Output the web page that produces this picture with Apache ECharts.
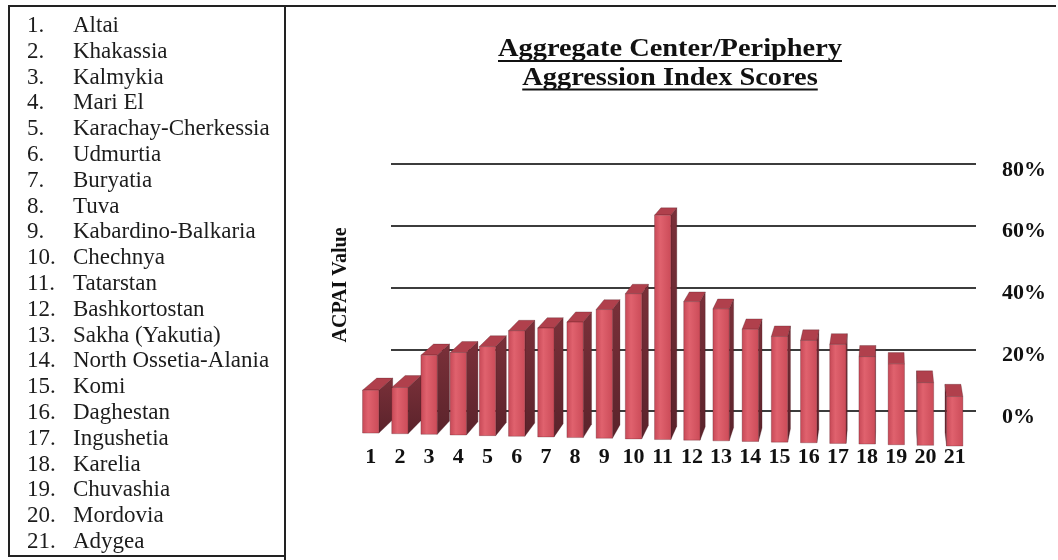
<!DOCTYPE html>
<html>
<head>
<meta charset="utf-8">
<script src="https://cdn.jsdelivr.net/npm/echarts@6/dist/echarts.min.js"></script>
<style>
  html, body { margin: 0; padding: 0; background: #ffffff; }
  #chart { width: 1058px; height: 560px; }
</style>
</head>
<body>
<div id="chart"></div>
<script>
// ---------- data ----------
const regions = ['Altai', 'Khakassia', 'Kalmykia', 'Mari El', 'Karachay-Cherkessia', 'Udmurtia',
  'Buryatia', 'Tuva', 'Kabardino-Balkaria', 'Chechnya', 'Tatarstan', 'Bashkortostan',
  'Sakha (Yakutia)', 'North Ossetia-Alania', 'Komi', 'Daghestan', 'Ingushetia', 'Karelia',
  'Chuvashia', 'Mordovia', 'Adygea'];
const barLabels = ['1', '2', '3', '4', '5', '6', '7', '8', '9', '10', '11', '12', '13', '14',
  '15', '16', '17', '18', '19', '20', '21'];
const acpaiValues = [13, 14, 24, 25, 27, 32, 33, 35, 39, 44, 68, 42, 40, 34, 32, 31, 30, 26.5, 24.5, 19, 15];
const titleLines = ['Aggregate Center/Periphery', 'Aggression Index Scores'];
const axisTitle = 'ACPAI Value';
const yMin = 0, yMax = 80, yStep = 20;

// ---------- styling ----------
const SERIF = '"Liberation Serif", "Times New Roman", serif';
const VPX = 890, VPY = 0, K = 0.027;  // perspective depth toward a vanishing point
const SKEW = 0.0222, SKEW_CX = 661;   // slight tilt of the front plane

const chart = echarts.init(document.getElementById('chart'), null, { renderer: 'canvas' });

function measure(text, font) {
  const c = document.createElement('canvas').getContext('2d');
  c.font = font;
  return c.measureText(text).width;
}

const graphics = [];
// frame
graphics.push({ type: 'line', shape: { x1: 8, y1: 6, x2: 1056, y2: 6 }, style: { stroke: '#222', lineWidth: 2 } });
graphics.push({ type: 'line', shape: { x1: 9, y1: 6, x2: 9, y2: 556 }, style: { stroke: '#222', lineWidth: 2 } });
graphics.push({ type: 'line', shape: { x1: 285, y1: 6, x2: 285, y2: 560 }, style: { stroke: '#222', lineWidth: 2 } });
graphics.push({ type: 'line', shape: { x1: 8, y1: 556, x2: 286, y2: 556 }, style: { stroke: '#222', lineWidth: 2 } });

// region list
regions.forEach((name, i) => {
  const y = 26 + i * 25.8;
  graphics.push({ type: 'text', x: 27, y: y, style: { text: (i + 1) + '.', font: '23px ' + SERIF, fill: '#1c1c1c', align: 'left', verticalAlign: 'middle' } });
  graphics.push({ type: 'text', x: 73, y: y, style: { text: name, font: '23px ' + SERIF, fill: '#1c1c1c', align: 'left', verticalAlign: 'middle' } });
});

// title with underline
const titleFont = 'bold 25px ' + SERIF;
const titleScale = 344 / measure(titleLines[0], titleFont);
titleLines.forEach((t, i) => {
  const cy = 50 + i * 28.5;
  const w = measure(t, titleFont) * titleScale;
  graphics.push({ type: 'text', x: 670, y: cy, scaleX: titleScale, style: { text: t, font: titleFont, fill: '#111', align: 'center', verticalAlign: 'middle' } });
  graphics.push({ type: 'line', shape: { x1: 670 - w / 2, y1: cy + 11, x2: 670 + w / 2, y2: cy + 11 }, style: { stroke: '#111', lineWidth: 2 } });
});

// axis title
graphics.push({ type: 'text', x: 341, y: 285, rotation: Math.PI / 2,
  style: { text: axisTitle, font: 'bold 20px ' + SERIF, fill: '#111', align: 'center', verticalAlign: 'middle' } });

function renderBar(params, api) {
  const i = api.value(0), v = api.value(1);
  const base = api.coord([i, 0]);
  const top = api.coord([i, v]);
  const band = api.size([1, 0])[0];
  const w = band * 0.56;
  const cx = base[0];
  const sk = (cx - SKEW_CX) * SKEW;
  const x0 = cx - w / 2, x1 = cx + w / 2;
  const yT = top[1] + sk, yB = base[1] + sk;
  const off = (x, y) => [x + K * (VPX - x), y + K * (VPY - y) - 1.5];
  const children = [];
  const edge = { stroke: 'rgba(70,20,28,0.45)', lineWidth: 0.6 };
  // side face
  if (x1 < VPX) {
    const a = off(x1, yT), b = off(x1, yB);
    children.push({ type: 'polygon', shape: { points: [[x1, yT], a, b, [x1, yB]] },
      style: Object.assign({ fill: { type: 'linear', x: 0, y: 0, x2: 0, y2: 1, colorStops: [
        { offset: 0, color: '#7a3039' }, { offset: 1, color: '#5a232b' }] } }, edge) });
  } else if (x0 > VPX) {
    const a = off(x0, yT), b = off(x0, yB);
    children.push({ type: 'polygon', shape: { points: [[x0, yT], a, b, [x0, yB]] },
      style: Object.assign({ fill: '#6a2a33' }, edge) });
  }
  // top face
  const t0 = off(x0, yT), t1 = off(x1, yT);
  children.push({ type: 'polygon', shape: { points: [[x0, yT], [x1, yT], t1, t0] },
    style: Object.assign({ fill: '#b0404c' }, edge) });
  // front face
  children.push({ type: 'rect', shape: { x: x0, y: yT, width: w, height: yB - yT },
    style: Object.assign({ fill: { type: 'linear', x: 0, y: 0, x2: 1, y2: 0, colorStops: [
      { offset: 0, color: '#c64856' }, { offset: 0.35, color: '#e0626e' }, { offset: 1, color: '#cb4b58' }] } }, edge) });
  return { type: 'group', children: children };
}

const option = {
  backgroundColor: '#ffffff',
  animation: false,
  grid: [
    { left: 391, right: 82, top: 164, bottom: 149 },   // back wall with gridlines
    { left: 356.1, right: 88.7, top: 175.5, bottom: 120.5 }  // front plane of the bars
  ],
  xAxis: [
    { type: 'category', gridIndex: 0, data: barLabels, show: false },
    { type: 'category', gridIndex: 1, data: barLabels, boundaryGap: true,
      axisLine: { show: false }, axisTick: { show: false },
      axisLabel: { margin: 7, color: '#111', fontFamily: SERIF, fontWeight: 'bold', fontSize: 22, interval: 0 } }
  ],
  yAxis: [
    { type: 'value', gridIndex: 0, position: 'right', min: yMin, max: yMax, interval: yStep,
      axisLine: { show: false }, axisTick: { show: false },
      axisLabel: { margin: 26, formatter: '{value}%', color: '#111', fontFamily: SERIF, fontWeight: 'bold', fontSize: 22,
        verticalAlign: 'top', lineHeight: 12 },
      splitLine: { show: true, lineStyle: { color: '#3c3c3c', width: 2 } } },
    { type: 'value', gridIndex: 1, min: yMin, max: yMax, show: false, splitLine: { show: false } }
  ],
  series: [
    { type: 'custom', xAxisIndex: 1, yAxisIndex: 1, renderItem: renderBar,
      encode: { x: 0, y: 1 }, data: acpaiValues.map((v, i) => [i, v]), z: 5 }
  ],
  graphic: graphics
};
chart.setOption(option);
</script>
</body>
</html>
